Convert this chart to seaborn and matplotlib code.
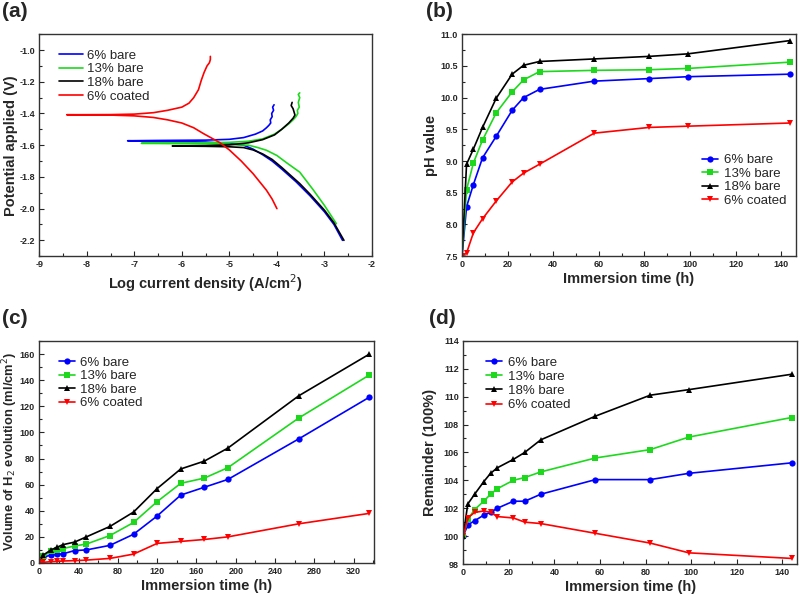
import numpy as np
import pandas as pd
import seaborn as sns
import matplotlib
matplotlib.use("Agg")
import matplotlib.pyplot as plt
from matplotlib.ticker import MultipleLocator, FormatStrFormatter

# --- DATA ---
labels = ["6% bare", "13% bare", "18% bare", "6% coated"]
colors = ["#0000FF", "#1ED81E", "#000000", "#FF0000"]
markers = ["o", "s", "^", "v"]

# (a) polarization curves: anodic tip -> Ecorr -> cathodic tip
pol_6_x = [-4.06, -4.09, -4.07, -4.11, -4.10, -4.14, -4.13, -4.17, -4.22, -4.30, -4.45, -4.7, -5.0, -5.5, -6.5, -7.14,
           -6.5, -5.5, -5.0, -4.7, -4.5, -4.3, -4.1, -3.9, -3.6, -3.3, -3.0, -2.8, -2.62]
pol_6_y = [-1.345, -1.36, -1.38, -1.40, -1.42, -1.44, -1.46, -1.475, -1.49, -1.51, -1.53, -1.552, -1.563, -1.568, -1.57, -1.572,
           -1.575, -1.58, -1.59, -1.60, -1.625, -1.66, -1.70, -1.75, -1.83, -1.92, -2.02, -2.10, -2.20]
pol_13_x = [-3.52, -3.55, -3.52, -3.55, -3.53, -3.57, -3.56, -3.60, -3.66, -3.75, -3.9, -4.05, -4.3, -4.6, -5.0, -5.5, -6.85,
            -5.5, -5.0, -4.6, -4.4, -4.22, -4.0, -3.8, -3.52, -3.24, -3.0, -2.75]
pol_13_y = [-1.27, -1.28, -1.30, -1.33, -1.36, -1.38, -1.40, -1.42, -1.44, -1.465, -1.50, -1.53, -1.56, -1.575, -1.582, -1.585, -1.588,
            -1.592, -1.595, -1.60, -1.615, -1.632, -1.665, -1.71, -1.77, -1.88, -1.98, -2.095]
pol_18_x = [-3.68, -3.70, -3.66, -3.64, -3.62, -3.66, -3.75, -3.9, -4.05, -4.3, -4.6, -5.0, -5.5, -6.2,
            -5.5, -5.0, -4.7, -4.5, -4.3, -4.1, -3.9, -3.52, -3.3, -3.0, -2.8, -2.59]
pol_18_y = [-1.33, -1.35, -1.37, -1.39, -1.41, -1.43, -1.46, -1.50, -1.535, -1.565, -1.585, -1.598, -1.603, -1.605,
            -1.607, -1.61, -1.615, -1.63, -1.655, -1.69, -1.74, -1.842, -1.91, -2.01, -2.09, -2.20]
pol_6c_x = [-5.40, -5.40, -5.42, -5.47, -5.53, -5.59, -5.65, -5.75, -5.85, -6.0, -6.3, -6.6, -7.0, -7.5, -8.42,
            -7.5, -7.0, -6.6, -6.3, -6.0, -5.75, -5.55, -5.2, -5.0, -4.75, -4.5, -4.22, -4.1, -4.0]
pol_6c_y = [-1.04, -1.06, -1.08, -1.10, -1.14, -1.19, -1.25, -1.30, -1.335, -1.36, -1.38, -1.395, -1.404, -1.407, -1.408,
            -1.410, -1.415, -1.425, -1.44, -1.46, -1.49, -1.526, -1.584, -1.63, -1.70, -1.78, -1.884, -1.94, -2.0]

# (b) pH value
ph_time = [0, 2, 5, 9, 15, 22, 27, 34, 58, 82, 99, 144]
ph_6 = [7.5, 8.28, 8.63, 9.05, 9.39, 9.80, 10.0, 10.13, 10.26, 10.30, 10.33, 10.37]
ph_13 = [7.5, 8.55, 8.97, 9.33, 9.76, 10.09, 10.28, 10.41, 10.43, 10.44, 10.46, 10.56]
ph_18 = [7.5, 8.95, 9.19, 9.53, 9.99, 10.37, 10.51, 10.57, 10.61, 10.65, 10.69, 10.90]
ph_6c = [7.5, 7.55, 7.87, 8.09, 8.37, 8.67, 8.81, 8.95, 9.44, 9.53, 9.55, 9.60]

# (c) H2 evolution volume
h2_time = [0, 4, 12, 18, 24, 36, 48, 72, 96, 120, 144, 168, 192, 264, 336]
h2_6 = [0, 4.5, 6, 6.5, 7, 9.5, 10, 13.5, 22, 36, 52, 58, 64, 95, 127]
h2_13 = [0, 5, 9, 10, 11, 13, 14.5, 21, 31, 47, 61, 65, 73, 111, 144]
h2_18 = [0, 6, 10, 12, 14, 16, 20, 28, 39, 57, 72, 78, 88, 128, 160]
h2_6c = [0, 0.5, 1, 1.2, 1.5, 1.8, 2.2, 3.5, 6.8, 15, 16.5, 18, 20, 30, 38]

# (d) remainder
rem_time = [0, 2, 5, 9, 12, 15, 22, 27, 34, 58, 82, 99, 144]
rem_6 = [100, 100.8, 101.1, 101.5, 101.7, 102.0, 102.5, 102.5, 103.0, 104.05, 104.05, 104.5, 105.25]
rem_13 = [100, 101.2, 101.9, 102.5, 103.0, 103.4, 104.0, 104.2, 104.6, 105.6, 106.2, 107.1, 108.5]
rem_18 = [100, 102.3, 103.0, 103.9, 104.5, 104.9, 105.5, 106.0, 106.9, 108.6, 110.1, 110.5, 111.6]
rem_6c = [100, 101.3, 101.7, 101.8, 101.7, 101.4, 101.3, 101.0, 100.9, 100.2, 99.5, 98.8, 98.4]

# --- STYLE ---
sns.set_style("ticks")
plt.rcParams["font.family"] = ["Liberation Sans", "DejaVu Sans"]
plt.rcParams["axes.unicode_minus"] = False
plt.rcParams["xtick.direction"] = "in"
plt.rcParams["ytick.direction"] = "in"

fig = plt.figure(figsize=(8, 6), dpi=100)
ax_a = fig.add_axes([0.049, 0.573, 0.416, 0.370])
ax_b = fig.add_axes([0.5775, 0.573, 0.4175, 0.370])
ax_c = fig.add_axes([0.049, 0.0617, 0.419, 0.370])
ax_d = fig.add_axes([0.579, 0.060, 0.4175, 0.372])


def style_axis(ax, xmaj, xmin, ymaj, ymin, yfmt, xlabel, ylabel, ylab_x, ysize=10.5):
    ax.xaxis.set_major_locator(MultipleLocator(xmaj))
    ax.xaxis.set_minor_locator(MultipleLocator(xmin))
    ax.yaxis.set_major_locator(MultipleLocator(ymaj))
    ax.yaxis.set_minor_locator(MultipleLocator(ymin))
    ax.yaxis.set_major_formatter(FormatStrFormatter(yfmt))
    ax.tick_params(which="major", length=3.5, width=0.8, labelsize=6.5, pad=3)
    ax.tick_params(which="minor", length=2, width=0.8)
    for lab in ax.get_xticklabels() + ax.get_yticklabels():
        lab.set_fontweight("bold")
    for sp in ax.spines.values():
        sp.set_linewidth(1.0)
        sp.set_color("#333333")
    ax.set_xlabel(xlabel, fontsize=10.5, fontweight="bold", labelpad=2)
    ax.set_ylabel(ylabel, fontsize=ysize, fontweight="bold")
    ax.yaxis.set_label_coords(ylab_x, 0.5)


# --- (a) ---
pol_x = [pol_6_x, pol_13_x, pol_18_x, pol_6c_x]
pol_y = [pol_6_y, pol_13_y, pol_18_y, pol_6c_y]
for xs, ys, c, lab in zip(pol_x, pol_y, colors, labels):
    sns.lineplot(x=xs, y=ys, ax=ax_a, color=c, linewidth=1.2, sort=False, estimator=None, label=lab)
ax_a.set_xlim(-9, -2)
ax_a.set_ylim(-2.3, -0.9)
ax_a.xaxis.set_major_formatter(FormatStrFormatter("%d"))
style_axis(ax_a, 1, 0.5, 0.2, 0.1, "%.1f", "Log current density (A/cm$^2$)", "Potential applied (V)", -0.063)
ax_a.legend(loc="upper left", bbox_to_anchor=(0.04, 0.96), frameon=False, fontsize=9.5,
            handlelength=1.8, handletextpad=0.3, labelspacing=0.1, borderpad=0)

# --- (b)-(d) ---
panels = [
    (ax_b, ph_time, [ph_6, ph_13, ph_18, ph_6c]),
    (ax_c, h2_time, [h2_6, h2_13, h2_18, h2_6c]),
    (ax_d, rem_time, [rem_6, rem_13, rem_18, rem_6c]),
]
for ax, t, series in panels:
    for vals, c, m, lab in zip(series, colors, markers, labels):
        sns.lineplot(x=t, y=vals, ax=ax, color=c, marker=m, markersize=4.5, markeredgewidth=0,
                     linewidth=1.2, sort=False, estimator=None, label=lab)

ax_b.set_xlim(0, 146.5)
ax_b.set_ylim(7.5, 11.0)
style_axis(ax_b, 20, 10, 0.5, 0.25, "%.1f", "Immersion time (h)", "pH value", -0.072)
ax_b.legend(loc="upper left", bbox_to_anchor=(0.70, 0.49), frameon=False, fontsize=9.5,
            handlelength=1.2, handletextpad=0.4, labelspacing=0.1, borderpad=0)

ax_c.set_xlim(0, 341)
ax_c.set_ylim(0, 170)
style_axis(ax_c, 40, 20, 20, 10, "%d", "Immersion time (h)", "Volume of H$_2$ evolution (ml/cm$^2$)", -0.056, ysize=9.3)
ax_c.legend(loc="upper left", bbox_to_anchor=(0.04, 0.96), frameon=False, fontsize=9.5,
            handlelength=1.2, handletextpad=0.4, labelspacing=0.1, borderpad=0)

ax_d.set_xlim(0, 146.5)
ax_d.set_ylim(98, 114)
style_axis(ax_d, 20, 10, 2, 1, "%d", "Immersion time (h)", "Remainder (100%)", -0.078)
ax_d.legend(loc="upper left", bbox_to_anchor=(0.05, 0.96), frameon=False, fontsize=9.5,
            handlelength=1.2, handletextpad=0.4, labelspacing=0.15, borderpad=0)

# panel letters
fig.text(0.003, 0.997, "(a)", fontsize=15, fontweight="bold", va="top", ha="left")
fig.text(0.533, 0.997, "(b)", fontsize=15, fontweight="bold", va="top", ha="left")
fig.text(0.003, 0.485, "(c)", fontsize=15, fontweight="bold", va="top", ha="left")
fig.text(0.536, 0.485, "(d)", fontsize=15, fontweight="bold", va="top", ha="left")

fig.savefig("out.png", dpi=100)
